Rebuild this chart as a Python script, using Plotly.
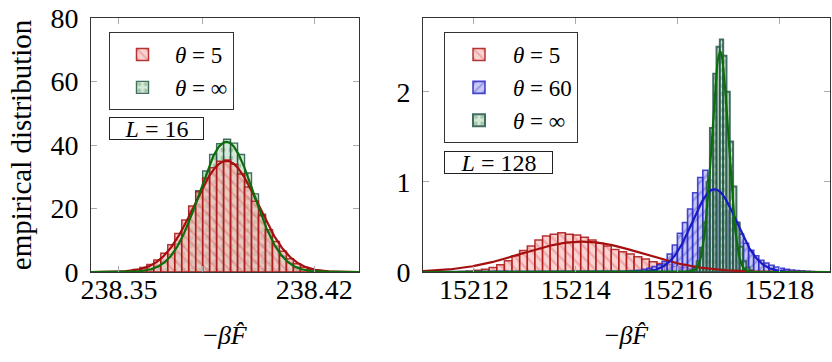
import numpy as np
import plotly.graph_objects as go

FONT = "Liberation Serif"

# ---------------- L = 16 panel ----------------
l16_bin_start = 238.340
l16_bin_width = 0.0025
l16_theta5 = [0.0, 0.01, 0.03, 0.07, 0.2, 0.4, 0.8, 1.4, 2.4, 3.8, 5.9, 8.6, 12.1, 16.4,
              20.8, 25.3, 29.6, 32.8, 34.9, 35.3, 33.9, 30.9, 26.8, 22.3, 17.7, 13.3, 9.6,
              6.5, 4.2, 2.6, 1.5, 0.85, 0.45, 0.22, 0.1, 0.05, 0.02, 0.01]
l16_thetainf = [0.0, 0.0, 0.0, 0.0, 0.01, 0.05, 0.15, 0.4, 0.9, 1.8, 3.2, 5.5, 8.9, 13.5,
                19.3, 25.6, 31.8, 37.0, 40.4, 41.8, 40.6, 37.0, 31.2, 24.6, 18.2, 12.6, 8.2,
                5.0, 2.8, 1.5, 0.75, 0.35, 0.15, 0.06, 0.02, 0.01, 0.0, 0.0]
l16_fit_mean = [238.3885, 238.3885]      # theta=5, theta=inf
l16_fit_sigma = [0.0114, 0.00973]
l16_xticks = [238.35, 238.38, 238.42]
l16_xticklabels = ["238.35", "", "238.42"]
l16_yticks = [0, 20, 40, 60, 80]

# ---------------- L = 128 panel ----------------
l128_t5_start = 15211.70
l128_t5_width = 0.15
l128_theta5 = [0.005, 0.01, 0.02, 0.03, 0.05, 0.08, 0.125, 0.18, 0.24, 0.29, 0.355, 0.40,
               0.42, 0.437, 0.42, 0.41, 0.385, 0.355, 0.32, 0.29, 0.25, 0.225, 0.20, 0.17,
               0.145, 0.115, 0.095, 0.08, 0.06, 0.05, 0.04, 0.03, 0.02, 0.015, 0.01, 0.005]
l128_t60_start = 15215.0
l128_t60_width = 0.1
l128_theta60 = [0.01, 0.015, 0.02, 0.03, 0.04, 0.06, 0.08, 0.12, 0.2, 0.3, 0.43, 0.55, 0.7,
                0.88, 1.05, 1.13, 1.02, 0.9, 0.78, 0.68, 0.6, 0.55, 0.42, 0.32, 0.24, 0.18,
                0.13, 0.1, 0.075, 0.055, 0.04, 0.03, 0.022, 0.016, 0.012, 0.008, 0.005]
l128_tinf_start = 15215.99
l128_tinf_width = 0.065
l128_thetainf = [0.0, 0.0, 0.0, 0.01, 0.02, 0.05, 0.12, 0.27, 0.55, 1.0, 1.6, 2.2, 2.5,
                 2.58, 2.4, 2.0, 1.45, 0.95, 0.55, 0.28, 0.12, 0.05, 0.02]
l128_fit_mean = [15214.13, 15216.73, 15216.84]   # theta=5, 60, inf
l128_fit_sigma = [1.18, 0.434, 0.163]
l128_xticks = [15212, 15214, 15216, 15218]
l128_xticklabels = ["15212", "15214", "15216", "15218"]
l128_yticks = [0, 1, 2]

# ---------------- styles ----------------
STY = {
    "5": dict(fill="rgba(248,180,180,0.6)", fg="rgba(210,70,70,0.6)", edge="rgba(170,20,20,0.85)",
              shape="\\", curve="#a50f0f", name="<i>θ</i> = 5"),
    "60": dict(fill="rgba(170,170,238,0.65)", fg="rgba(70,70,205,0.75)", edge="rgba(40,40,200,0.85)",
               shape="/", curve="#1a1ac8", name="<i>θ</i> = 60"),
    "inf": dict(fill="rgba(190,222,195,0.65)", fg="rgba(100,150,100,0.85)", edge="rgba(35,85,70,0.85)",
                shape=".", curve="#0b6e0b", name="<i>θ</i> = ∞"),
}


def centers(start, width, n):
    return [start + width * (i + 0.5) for i in range(n)]


def hist_trace(key, start, width, vals, xa, ya, legend, rank, lw):
    s = STY[key]
    return go.Bar(
        x=centers(start, width, len(vals)), y=vals, width=width,
        xaxis=xa, yaxis=ya, name=s["name"], legend=legend, legendrank=rank,
        marker=dict(color=s["fill"], line=dict(color=s["edge"], width=lw),
                    pattern=dict(shape=s["shape"], fgcolor=s["fg"], fillmode="overlay",
                                 size=8, solidity=0.3)),
        hoverinfo="skip",
    )


def fit_trace(key, mu, sig, lo, hi, xa, ya):
    xs = np.linspace(lo, hi, 600)
    ys = np.exp(-0.5 * ((xs - mu) / sig) ** 2) / (sig * np.sqrt(2 * np.pi))
    return go.Scatter(x=xs, y=ys, mode="lines", line=dict(color=STY[key]["curve"], width=2.2),
                      xaxis=xa, yaxis=ya, showlegend=False, hoverinfo="skip")


L16_RANGE = [238.340, 238.436]
L128_RANGE = [15211.0, 15219.0]

fig = go.Figure()
# left panel
fig.add_trace(hist_trace("inf", l16_bin_start, l16_bin_width, l16_thetainf, "x", "y", "legend", 2, 1.4))
fig.add_trace(hist_trace("5", l16_bin_start, l16_bin_width, l16_theta5, "x", "y", "legend", 1, 1.5))
fig.add_trace(fit_trace("5", l16_fit_mean[0], l16_fit_sigma[0], *L16_RANGE, "x", "y"))
fig.add_trace(fit_trace("inf", l16_fit_mean[1], l16_fit_sigma[1], *L16_RANGE, "x", "y"))
# right panel
fig.add_trace(hist_trace("5", l128_t5_start, l128_t5_width, l128_theta5, "x2", "y2", "legend2", 1, 1.5))
fig.add_trace(hist_trace("60", l128_t60_start, l128_t60_width, l128_theta60, "x2", "y2", "legend2", 2, 1.6))
fig.add_trace(hist_trace("inf", l128_tinf_start, l128_tinf_width, l128_thetainf, "x2", "y2", "legend2", 3, 2.0))
fig.add_trace(fit_trace("5", l128_fit_mean[0], l128_fit_sigma[0], *L128_RANGE, "x2", "y2"))
fig.add_trace(fit_trace("60", l128_fit_mean[1], l128_fit_sigma[1], *L128_RANGE, "x2", "y2"))
fig.add_trace(fit_trace("inf", l128_fit_mean[2], l128_fit_sigma[2], *L128_RANGE, "x2", "y2"))

W, H = 832, 362
ydom = [1 - 272 / H, 1 - 18 / H]
ax_common = dict(showline=True, linecolor="#333", linewidth=1, mirror="ticks", ticks="inside",
                 ticklen=6, tickcolor="#aaa", tickwidth=1, showgrid=False, zeroline=False,
                 automargin=False, tickfont=dict(family=FONT, size=28, color="black"))
xtitle = dict(text="−<i>β</i><i>F\u0302</i>", font=dict(family=FONT, size=26, color="black"), standoff=22)
legfont = dict(family=FONT, size=23, color="black")

fig.update_layout(
    width=W, height=H, margin=dict(l=0, r=0, t=0, b=0, autoexpand=False),
    paper_bgcolor="white", plot_bgcolor="white", barmode="overlay", bargap=0,
    xaxis=dict(domain=[91 / W, 359 / W], range=L16_RANGE, tickvals=l16_xticks,
               ticktext=l16_xticklabels, anchor="y", title=xtitle, ticklabelstandoff=-8, **ax_common),
    yaxis=dict(domain=ydom, range=[0, 80], tickvals=l16_yticks, anchor="x", ticklabelstandoff=6,
               title=dict(text="empirical distribution", font=dict(family=FONT, size=29, color="black"),
                          standoff=10), **ax_common),
    xaxis2=dict(domain=[423 / W, 830 / W], range=L128_RANGE, tickvals=l128_xticks,
                ticktext=l128_xticklabels, anchor="y2", title=xtitle, ticklabelstandoff=-8, **ax_common),
    yaxis2=dict(domain=ydom, range=[0, 2.82], tickvals=l128_yticks, anchor="x2", ticklabelstandoff=6,
                **ax_common),
    legend=dict(x=109 / W, y=1 - 32 / H, xanchor="left", yanchor="top", bgcolor="white",
                bordercolor="#333", borderwidth=1, font=legfont, tracegroupgap=0, itemwidth=55),
    legend2=dict(x=444 / W, y=1 - 32 / H, xanchor="left", yanchor="top", bgcolor="white",
                 bordercolor="#333", borderwidth=1, font=legfont, tracegroupgap=0, itemwidth=58),
    annotations=[
        dict(text="<i>L</i> = 16", x=156.5 / W, y=1 - 129 / H, xref="paper", yref="paper",
             xanchor="center", yanchor="middle", width=93, height=21,
             showarrow=False, bordercolor="#222", borderwidth=1, borderpad=0, bgcolor="white",
             font=dict(family=FONT, size=24, color="black")),
        dict(text="<i>L</i> = 128", x=498.5 / W, y=1 - 162 / H, xref="paper", yref="paper",
             xanchor="center", yanchor="middle", width=107, height=21,
             showarrow=False, bordercolor="#222", borderwidth=1, borderpad=0, bgcolor="white",
             font=dict(family=FONT, size=24, color="black")),
    ],
)

POST = ("document.body.style.margin='0';document.body.style.padding='0';"
        "document.body.style.overflow='hidden';"
        "var gd=document.getElementById('{plot_id}');"
        "Plotly.relayout(gd,{width:%d,height:%d});" % (W, H))

fig.write_html("out.html", post_script=POST,
               config={"responsive": False, "displayModeBar": False, "staticPlot": True})
